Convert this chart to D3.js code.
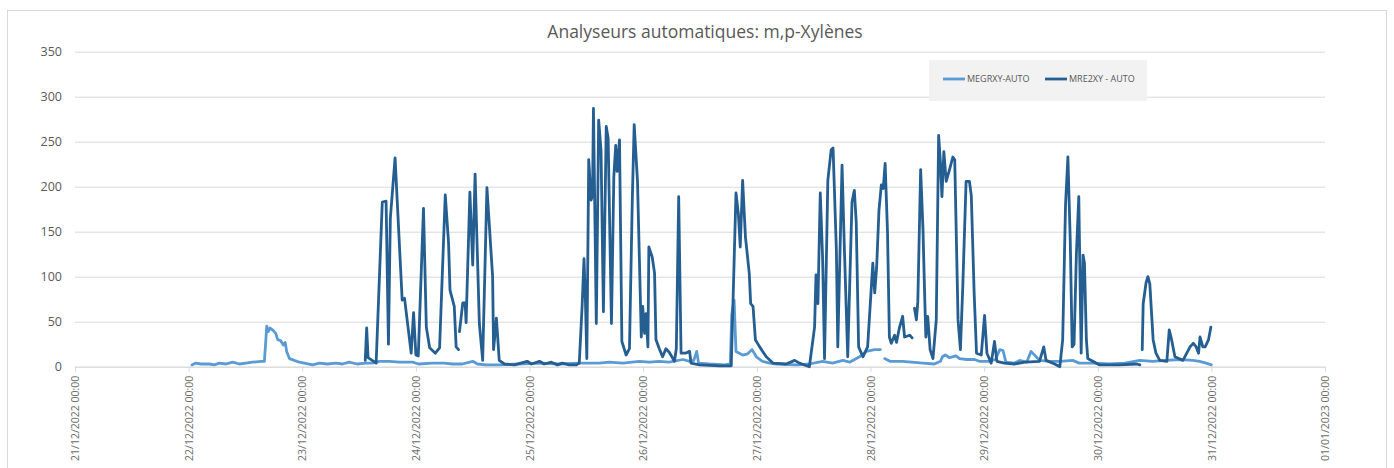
<!DOCTYPE html>
<html>
<head>
<meta charset="utf-8">
<script src="https://cdn.jsdelivr.net/npm/d3@7"></script>
<style>
body { margin: 0; background: #fff; }
svg text { font-family: "Open Sans", "Liberation Sans", sans-serif; fill: #595959; }
</style>
</head>
<body>
<div id="chart"></div>
<script>

var title = 'Analyseurs automatiques: m,p-Xylènes';
var seriesNames = ['MEGRXY-AUTO', 'MRE2XY - AUTO'];
var seriesColors = ['#5b9bd5', '#255e91'];
var yTicks = [0, 50, 100, 150, 200, 250, 300, 350];
var dayLabels = ['21/12/2022 00:00', '22/12/2022 00:00', '23/12/2022 00:00', '24/12/2022 00:00',
    '25/12/2022 00:00', '26/12/2022 00:00', '27/12/2022 00:00', '28/12/2022 00:00',
    '29/12/2022 00:00', '30/12/2022 00:00', '31/12/2022 00:00', '01/01/2023 00:00'];

// [hours after 22/12/2022 00:00, value], null = missing data
var megrxy = [
    [0.7, 2], [1.5, 4], [2.6, 3], [4.4, 3], [5.4, 2], [6.5, 4], [7.9, 3], [9.3, 5], [10.7, 3], [12.1, 4],
    [13.5, 5], [15.3, 6], [16.0, 6], [16.5, 45], [16.8, 39], [17.2, 43], [17.9, 40], [18.4, 37], [18.8, 30],
    [19.4, 29], [20.0, 24], [20.4, 27], [20.7, 17], [21.3, 9], [22.3, 7], [23.4, 5], [24.4, 4], [26.2, 2],
    [27.6, 4], [29.3, 3], [31.1, 4], [32.5, 3], [33.9, 5], [35.6, 3], [37.5, 4], [38.8, 4], [40.3, 6],
    [42.4, 6], [44.5, 5], [47.3, 5], [48.6, 3], [51.5, 4], [54.0, 4], [55.7, 3], [57.8, 3], [60.0, 6],
    [61.0, 3], [62.8, 2], [65.6, 2], [69.8, 3], [74.1, 4], [78.3, 3], [82.5, 4], [86.7, 4], [88.9, 5],
    [91.7, 4], [95.2, 6], [97.3, 5], [99.4, 6], [101.5, 5], [104.4, 8], [105.8, 6], [106.7, 7], [107.3, 17],
    [107.7, 4], [110.0, 3], [113.2, 2], [114.4, 3], [114.7, 58], [115.2, 74], [115.6, 17], [117.0, 13],
    [118.0, 14], [119.0, 19], [119.9, 11], [121.2, 6], [122.7, 4], [124.1, 3], [128.3, 2], [131.1, 3],
    [133.9, 6], [136.0, 4], [138.2, 7], [139.6, 5], [141.7, 11], [143.1, 17], [144.9, 19], [146.1, 19],
    null,
    [147.0, 9], [148.1, 6], [150.8, 6], [155.1, 4], [157.5, 3], [158.8, 6], [159.2, 11], [159.8, 13],
    [160.7, 10], [162.1, 12], [162.8, 9], [164.3, 8], [166.0, 8], [167.0, 6], [169.1, 6], [170.4, 8],
    [171.3, 19], [172.0, 18], [172.6, 5], [174.4, 4], [175.5, 7], [177.0, 5], [177.9, 17], [179.0, 11],
    [179.7, 7], [181.8, 6], [184.0, 6], [186.7, 7], [188.1, 4], [190.9, 4], [194.5, 3], [197.7, 4],
    [200.9, 7], [203.6, 6], [206.5, 7], [209.3, 8], [212.1, 7], [213.5, 6], [214.9, 4], [216.0, 2]
];

var mre2xy = [
    [37.3, 7], [37.6, 43], [37.9, 10], [39.6, 4], [40.9, 183], [41.7, 184], [42.2, 25], [42.6, 165],
    [43.6, 232], [45.1, 74], [45.6, 76], [47.0, 15], [47.5, 60], [48.0, 13], [48.5, 12], [49.6, 176],
    [50.2, 44], [50.9, 21], [52.1, 15], [53.0, 21], [54.2, 191], [54.9, 137], [55.2, 85], [56.1, 67],
    [56.5, 22], [57.0, 19],
    null,
    [57.2, 39], [57.9, 71], [58.4, 71], [58.6, 49], [59.4, 194], [60.0, 113], [60.5, 214], [61.4, 48],
    [62.1, 7], [63.0, 199], [64.2, 100], [64.4, 19], [65.0, 54], [65.6, 7], [66.7, 3], [68.8, 2],
    [71.5, 6], [72.4, 3], [74.1, 6], [75.1, 3], [76.6, 5], [77.9, 2], [78.9, 4], [80.4, 2], [81.9, 2],
    [82.5, 4], [83.1, 67], [83.5, 120], [83.8, 74], [84.1, 9], [84.5, 230], [85.0, 185], [85.3, 190],
    [85.5, 287], [86.1, 48], [86.6, 274], [87.1, 240], [87.6, 61], [88.2, 267], [88.6, 254], [89.3, 48],
    [89.8, 211], [90.2, 246], [90.5, 217], [91.0, 252], [91.5, 28], [92.4, 13], [93.1, 20], [93.7, 185],
    [94.1, 269], [94.8, 206], [95.6, 33], [95.9, 67], [96.3, 37], [96.6, 59], [97.0, 22], [97.2, 133],
    [97.9, 122], [98.4, 104], [98.7, 30], [99.4, 20], [100.1, 11], [100.8, 20], [101.5, 16], [102.6, 6],
    [103.0, 20], [103.5, 189], [104.0, 15], [104.9, 15], [105.8, 17], [106.1, 4], [107.9, 2], [112.1, 1],
    [114.6, 1], [115.6, 193], [116.1, 170], [116.5, 133], [117.0, 207], [117.6, 144], [118.4, 104],
    [118.7, 70], [119.2, 67], [119.7, 30], [120.6, 22], [122.0, 11], [123.4, 4], [126.2, 3], [128.0, 7],
    [129.0, 4], [131.1, 0], [132.2, 44], [132.5, 102], [132.9, 70], [133.4, 193], [133.9, 120], [134.3, 9],
    [135.0, 207], [135.7, 241], [136.1, 243], [136.8, 130], [137.1, 22], [138.0, 224], [138.5, 130],
    [139.2, 11], [140.1, 183], [140.6, 196], [141.0, 160], [141.5, 22], [142.4, 11], [143.4, 22],
    [144.5, 115], [144.9, 82], [145.3, 110], [145.8, 174], [146.3, 202], [146.7, 198], [147.1, 226],
    [147.6, 150], [148.0, 33], [148.4, 26], [149.1, 35], [149.5, 27], [150.1, 43], [150.8, 56], [151.2, 33],
    [152.3, 35], [152.8, 32],
    null,
    [153.3, 65], [153.7, 52], [154.0, 72], [154.6, 219], [155.1, 152], [155.4, 89], [155.7, 33],
    [156.1, 56], [156.6, 19], [157.2, 9], [157.9, 52], [158.4, 257], [158.8, 225], [159.1, 189],
    [159.5, 239], [160.0, 206], [160.7, 219], [161.4, 233], [161.8, 230], [162.5, 52], [163.0, 19],
    [163.5, 89], [164.2, 206], [164.9, 206], [165.3, 190], [165.9, 82], [166.4, 15], [167.4, 13],
    [168.1, 57], [168.6, 15], [169.5, 4], [170.2, 28], [170.7, 6], [172.3, 4], [174.4, 3], [176.6, 5],
    [179.7, 6], [180.6, 22], [181.1, 7], [182.9, 3], [184.0, 0], [184.6, 30], [185.2, 180], [185.7, 233],
    [186.2, 140], [186.6, 22], [187.0, 25], [187.5, 126], [188.0, 189], [188.5, 15], [188.9, 124],
    [189.2, 115], [189.6, 30], [189.9, 9], [192.4, 2], [196.6, 2], [200.2, 3], [200.9, 2],
    null,
    [201.4, 19], [201.6, 70], [202.2, 93], [202.6, 100], [203.0, 92], [203.7, 30], [204.3, 15], [205.1, 7],
    [206.6, 6], [207.1, 41], [207.6, 30], [208.3, 11], [210.0, 7], [211.5, 22], [212.2, 26], [212.8, 22],
    [213.3, 15], [213.6, 33], [214.2, 22], [214.7, 22], [215.4, 30], [215.9, 44]
];

var width = 1394;
var height = 468;
var plotLeft = 75;
var plotRight = 1325;
var plotTop = 51.7;
var plotBottom = 366.7;
var start = new Date(2022, 11, 22);

function toDate(h) {
    return new Date(start.getTime() + h * 3600 * 1000);
}

var svg = d3.select('#chart').append('svg')
    .attr('width', width)
    .attr('height', height);

svg.append('rect')
    .attr('x', 7.5)
    .attr('y', 10.5)
    .attr('width', 1379)
    .attr('height', 480)
    .attr('fill', '#fff')
    .attr('stroke', '#d9d9d9');

var xScale = d3.scaleTime()
    .domain([new Date(2022, 11, 21), new Date(2023, 0, 1)])
    .range([plotLeft, plotRight]);

var yScale = d3.scaleLinear()
    .domain([0, 350])
    .range([plotBottom, plotTop]);

// gridlines + y labels
var yAxis = d3.axisLeft(yScale)
    .tickValues(yTicks)
    .tickSize(-(plotRight - plotLeft))
    .tickPadding(13);

var gy = svg.append('g')
    .attr('transform', `translate(${plotLeft},0)`)
    .call(yAxis);
gy.select('.domain').remove();
gy.selectAll('line').attr('stroke', '#d9d9d9');
gy.selectAll('text').attr('font-size', 12.5).style('fill', '#595959');

var dayDates = dayLabels.map((d, i) => new Date(2022, 11, 21 + i));

var xAxis = d3.axisBottom(xScale)
    .tickValues(dayDates)
    .tickFormat((d, i) => dayLabels[i])
    .tickSize(5)
    .tickSizeOuter(0);

var gx = svg.append('g')
    .attr('transform', `translate(0,${plotBottom})`)
    .call(xAxis);
gx.select('.domain').attr('stroke', '#d9d9d9');
gx.selectAll('line').attr('stroke', '#d9d9d9');
gx.selectAll('text')
    .attr('font-size', 10.5)
    .style('fill', '#6b6b6b')
    .attr('text-anchor', 'end')
    .attr('transform', 'rotate(-90)')
    .attr('x', -9)
    .attr('y', 0)
    .attr('dy', '0.35em');

var line = d3.line()
    .defined(d => d !== null)
    .x(d => xScale(toDate(d[0])))
    .y(d => yScale(d[1]));

[megrxy, mre2xy].forEach((s, i) => {
    svg.append('path')
        .datum(s)
        .attr('fill', 'none')
        .attr('stroke', seriesColors[i])
        .attr('stroke-width', 2.8)
        .attr('stroke-linejoin', 'round')
        .attr('stroke-linecap', 'round')
        .attr('d', line);
});

svg.append('text')
    .text(title)
    .attr('x', 705)
    .attr('y', 38)
    .attr('text-anchor', 'middle')
    .attr('font-size', 17.5);

// legend
var legend = svg.append('g');
legend.append('rect')
    .attr('x', 929)
    .attr('y', 60)
    .attr('width', 218)
    .attr('height', 41)
    .attr('fill', '#f2f2f2');

var legendX = [943, 1045];
seriesNames.forEach((name, i) => {
    legend.append('line')
        .attr('x1', legendX[i])
        .attr('x2', legendX[i] + 22)
        .attr('y1', 79)
        .attr('y2', 79)
        .attr('stroke', seriesColors[i])
        .attr('stroke-width', 2.8);
    legend.append('text')
        .text(name)
        .attr('x', legendX[i] + 24)
        .attr('y', 82)
        .attr('font-size', 9);
});

</script>
</body>
</html>
